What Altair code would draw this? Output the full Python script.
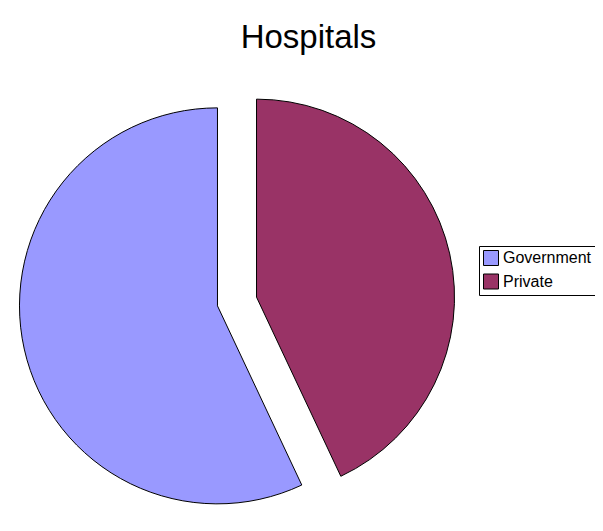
import math
import altair as alt
import pandas as pd

# ---- data ----
categories = ["Government", "Private"]
values = [57, 43]
colors = ["#9999FF", "#993366"]
stack_order = [2, 1]  # Private starts at 12 o'clock, clockwise

df = pd.DataFrame({"category": categories, "value": values, "order": stack_order})
df = df.sort_values("order").reset_index(drop=True)
total = df["value"].sum()
df["start"] = (df["value"].cumsum() - df["value"]) / total
df["end"] = df["value"].cumsum() / total

EXPLODE = 20
R = 198

color_enc = alt.Color(
    "category:N",
    scale=alt.Scale(domain=categories, range=colors),
    legend=alt.Legend(
        title=None,
        orient="none",
        legendX=471,
        legendY=166,
        strokeColor="black",
        fillColor="white",
        padding=4,
        symbolType="square",
        symbolSize=225,
        symbolStrokeColor="black",
        symbolStrokeWidth=1,
        labelFont="Liberation Sans",
        labelFontSize=16,
        labelColor="black",
        labelOffset=4,
        rowPadding=3.5,
    ),
)

layers = []
for _, row in df.iterrows():
    mid = math.pi * (row["start"] + row["end"])
    dx = EXPLODE * math.sin(mid)
    dy = -EXPLODE * math.cos(mid)
    sub = df[df["category"] == row["category"]]
    layers.append(
        alt.Chart(sub)
        .mark_arc(radius=R, stroke="black", strokeWidth=1, xOffset=dx, yOffset=dy)
        .encode(
            theta=alt.Theta("start:Q", scale=alt.Scale(domain=[0, 1], range=[0, 2 * math.pi])),
            theta2="end:Q",
            color=color_enc,
        )
    )

chart = (
    alt.layer(*layers)
    .properties(
        width=458,
        height=443,
        title=alt.TitleParams(
            "Hospitals",
            font="Liberation Sans",
            fontSize=33,
            fontWeight="normal",
            color="black",
            anchor="middle",
            dx=71.5,
            dy=3,
            baseline="alphabetic",
            offset=2,
        ),
        autosize="none",
        padding={"left": 0, "top": 72, "right": 129, "bottom": 0},
        background="white",
    )
    .configure_view(stroke=None)
)

chart.save("out.html", embed_options={"renderer": "svg", "actions": False})
